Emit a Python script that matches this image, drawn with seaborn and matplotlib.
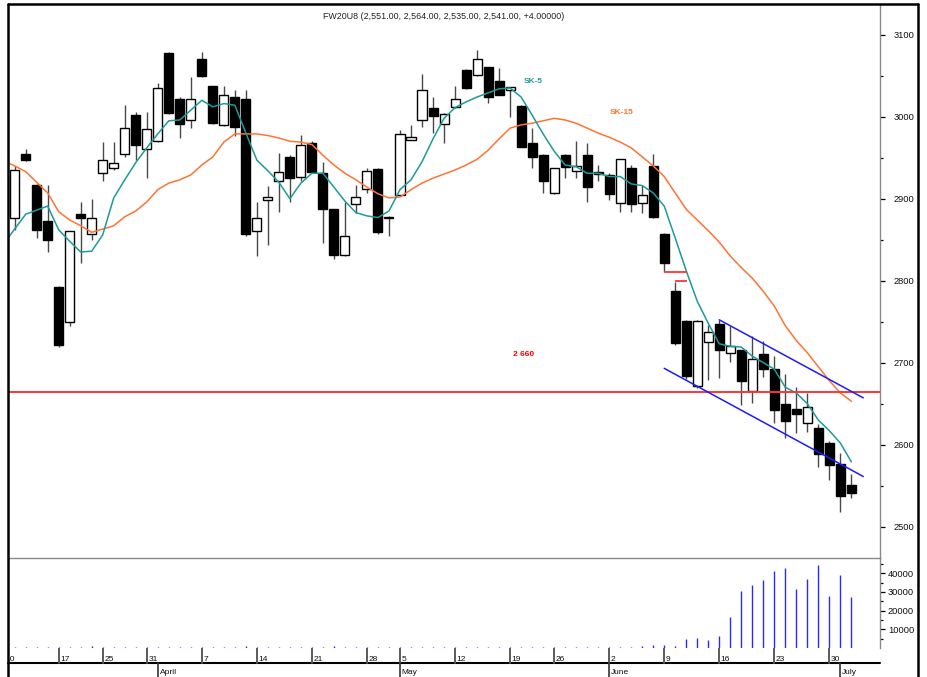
import numpy as np
import pandas as pd
import matplotlib
matplotlib.use("Agg")
import matplotlib.pyplot as plt
from matplotlib.lines import Line2D
from matplotlib.ticker import MultipleLocator, FixedLocator
import seaborn as sns

sns.set_theme(style="white")
plt.rcParams['font.family'] = ['Liberation Sans', 'DejaVu Sans']

# ---------------- data ----------------
title_text = "FW20U8 (2,551.00, 2,564.00, 2,535.00, 2,541.00, +4.00000)"

day_index = list(range(1, 78))
opens = [2876, 2955, 2917, 2873, 2792, 2750, 2881, 2857, 2931, 2938,
         2955, 3002, 2960, 2970, 3078, 3022, 2996, 3070, 3037, 2990,
         3024, 3022, 2860, 2898, 2921, 2951, 2927, 2968, 2931, 2887,
         2831, 2894, 2912, 2936, 2876, 2905, 2972, 2996, 3011, 2991,
         3012, 3057, 3051, 3060, 3043, 3032, 3013, 2968, 2953, 2907,
         2953, 2934, 2953, 2932, 2929, 2895, 2938, 2895, 2940, 2857,
         2787, 2751, 2671, 2725, 2747, 2712, 2715, 2665, 2711, 2692,
         2650, 2644, 2627, 2620, 2602, 2577, 2551]
highs = [2940, 2960, 2918, 2917, 2793, 2861, 2896, 2900, 2969, 2969,
         3014, 3006, 3006, 3041, 3079, 3024, 3049, 3079, 3038, 3037,
         3033, 3033, 2896, 2915, 2956, 2953, 2978, 2970, 2945, 2888,
         2896, 2917, 2938, 2937, 2879, 2984, 2990, 3052, 3024, 3005,
         3037, 3058, 3081, 3060, 3059, 3036, 3014, 2986, 2954, 2938,
         2954, 2970, 2968, 2941, 2931, 2949, 2941, 2917, 2955, 2858,
         2799, 2752, 2752, 2746, 2752, 2745, 2716, 2732, 2726, 2708,
         2686, 2670, 2663, 2625, 2605, 2590, 2564]
lows = [2862, 2946, 2852, 2835, 2719, 2745, 2822, 2850, 2921, 2935,
        2951, 2947, 2925, 2969, 3003, 2974, 2986, 3049, 2991, 2989,
        2977, 2855, 2830, 2844, 2884, 2896, 2921, 2931, 2846, 2827,
        2830, 2882, 2907, 2857, 2854, 2904, 2971, 2988, 2980, 2968,
        3011, 3034, 3050, 3017, 3026, 3000, 2963, 2937, 2907, 2906,
        2925, 2925, 2896, 2921, 2899, 2884, 2884, 2883, 2877, 2810,
        2721, 2680, 2669, 2679, 2681, 2701, 2648, 2651, 2683, 2626,
        2608, 2614, 2616, 2573, 2557, 2518, 2535]
closes = [2935, 2947, 2862, 2850, 2722, 2861, 2877, 2876, 2947, 2943,
          2986, 2966, 2985, 3035, 3005, 2991, 3022, 3050, 2992, 3026,
          2988, 2857, 2876, 2902, 2933, 2925, 2966, 2933, 2888, 2831,
          2854, 2902, 2934, 2859, 2878, 2979, 2975, 3033, 3001, 3003,
          3022, 3035, 3070, 3024, 3027, 3036, 2963, 2951, 2921, 2938,
          2939, 2940, 2914, 2930, 2906, 2948, 2894, 2905, 2878, 2822,
          2724, 2684, 2751, 2737, 2715, 2720, 2678, 2705, 2692, 2642,
          2629, 2638, 2646, 2589, 2575, 2537, 2541]
volumes = [500, 500, 500, 500, 600, 500, 500, 900, 500, 500,
           500, 500, 600, 600, 500, 500, 500, 600, 500, 500,
           500, 900, 500, 500, 500, 500, 500, 600, 500, 900,
           500, 500, 500, 500, 500, 600, 500, 500, 500, 500,
           600, 500, 500, 500, 500, 600, 500, 500, 500, 600,
           500, 500, 800, 500, 800, 500, 800, 900, 1800, 1800,
           1200, 4600, 5200, 4300, 6600, 16400, 30600, 33700, 36200, 41200,
           42600, 31600, 36700, 44400, 27800, 39000, 27300]

ma_index = list(range(0, 78))
sk5 = [2845, 2863, 2881, 2886, 2891, 2862, 2848, 2835, 2836, 2856,
       2901, 2923, 2944, 2962, 2979, 2995, 2996, 3008, 3020, 3012,
       3016, 3014, 2980, 2947, 2934, 2920, 2900, 2919, 2931, 2931,
       2914, 2897, 2883, 2879, 2877, 2885, 2911, 2923, 2945, 2973,
       2998, 3011, 3018, 3024, 3029, 3034, 3035, 3024, 3002, 2979,
       2958, 2941, 2939, 2931, 2931, 2927, 2927, 2918, 2916, 2907,
       2891, 2852, 2812, 2775, 2748, 2723, 2720, 2719, 2708, 2700,
       2692, 2670, 2663, 2650, 2630, 2617, 2602, 2579]
sk15 = [2946, 2940, 2933, 2920, 2907, 2884, 2874, 2867, 2859, 2863,
        2867, 2878, 2885, 2896, 2911, 2919, 2923, 2929, 2941, 2951,
        2969, 2979, 2979, 2979, 2977, 2974, 2970, 2969, 2966, 2953,
        2941, 2931, 2923, 2914, 2906, 2901, 2902, 2911, 2919, 2925,
        2930, 2935, 2941, 2948, 2959, 2973, 2986, 2990, 2992, 2995,
        2998, 2996, 2992, 2986, 2980, 2975, 2969, 2962, 2951, 2940,
        2927, 2907, 2887, 2874, 2861, 2847, 2830, 2816, 2803, 2787,
        2769, 2745, 2727, 2712, 2695, 2678, 2663, 2653]

week_ticks = [0, 5, 9, 13, 18, 23, 28, 33, 36, 41, 46, 50, 55, 60, 65, 70, 75]
week_labels = ["10", "17", "25", "31", "7", "14", "21", "28", "5", "12",
               "19", "26", "2", "9", "16", "23", "30"]
month_ticks = [14, 36, 55, 76]
month_labels = ["April", "May", "June", "July"]

price_ticks = [2500, 2600, 2700, 2800, 2900, 3000, 3100]
volume_ticks = [10000, 20000, 30000, 40000]

level_value = 2663.9
level_label = "2 660"
upper_x = [65.0, 78.08]
upper_y = [2752.3, 2657.1]
lower_x = [60.0, 78.08]
lower_y = [2693.1, 2561.2]
gap_start = [60, 61]
gap_end = [62.1, 62.1]
gap_value = [2810, 2800]

# ---------------- style ----------------
TEAL = "#1e9a9a"
ORANGE = "#ff7333"
RED = "#ff3434"
BLUE = "#1c1cff"
VOLC = "#2a2aff"

W, H = 928, 677
fig = plt.figure(figsize=(W / 100, H / 100), dpi=100)
fig.patch.set_facecolor("white")
XL = (0.395, 79.6)

ax = fig.add_axes([8 / W, (H - 558) / H, 872 / W, 553 / H])
axv = fig.add_axes([8 / W, (H - 648) / H, 872 / W, 90 / H])
axd = fig.add_axes([8 / W, 0, 872 / W, 29 / H])

# ---------------- candles ----------------
df = pd.DataFrame(dict(i=day_index, o=opens, h=highs, l=lows, c=closes))
ax.vlines(df["i"], df["l"], df["h"], color="#484848", lw=1.0, zorder=2)
up = df["c"] >= df["o"]
blo = np.minimum(df["o"], df["c"])
bh = np.maximum((df["c"] - df["o"]).abs(), 1.5)
ax.bar(df["i"][up], bh[up], bottom=blo[up], width=0.82, color="white",
       edgecolor="black", linewidth=1.0, zorder=3)
ax.bar(df["i"][~up], bh[~up], bottom=blo[~up], width=0.82, color="black",
       edgecolor="black", linewidth=1.0, zorder=3)

# ---------------- moving averages (seaborn) ----------------
ma = pd.DataFrame(dict(i=ma_index, sk5=sk5, sk15=sk15))
sns.lineplot(data=ma, x="i", y="sk15", ax=ax, color=ORANGE, lw=1.1, zorder=4)
sns.lineplot(data=ma, x="i", y="sk5", ax=ax, color=TEAL, lw=1.1, zorder=4)
ax.set_xlabel("")
ax.set_ylabel("")

# level, channel, gaps
ax.axhline(level_value, color=RED, lw=1.4, zorder=5)
ax.plot(upper_x, upper_y, color=BLUE, lw=1.1, zorder=5)
ax.plot(lower_x, lower_y, color=BLUE, lw=1.1, zorder=5)
ax.hlines(gap_value, gap_start, gap_end, color=RED, lw=1.3, zorder=5)

ax.text(47.26, 3042.3, "SK-5", color=TEAL, fontsize=6.0, fontweight="bold",
        ha="left", va="center")
ax.text(55.01, 3005.1, "SK-15", color=ORANGE, fontsize=6.0, fontweight="bold",
        ha="left", va="center")
ax.text(46.23, 2709.4, level_label, color="red", fontsize=6.0, fontweight="bold",
        ha="left", va="center")

# price axis
ax.set_xlim(XL)
ax.set_ylim(2461.8, 3136.2)
ax.set_xticks([])
ax.yaxis.tick_right()
ax.yaxis.set_major_locator(FixedLocator(price_ticks))
ax.yaxis.set_minor_locator(MultipleLocator(50))
ax.set_yticklabels([str(v) for v in price_ticks])
ax.tick_params(axis="y", which="major", direction="out", length=3.6, width=0.9,
               color="black", labelsize=6.7, labelcolor="#111", pad=20.9)
ax.tick_params(axis="y", which="minor", direction="out", length=2.2, width=0.9,
               color="black")
plt.setp(ax.get_yticklabels(), ha="right")
for s in ("left", "top", "bottom"):
    ax.spines[s].set_visible(False)
ax.spines["right"].set_color("#8a8a8a")
ax.spines["right"].set_linewidth(1.0)

# ---------------- volume ----------------
axv.vlines(day_index, 0, volumes, color=VOLC, lw=1.0)
axv.set_xlim(XL)
axv.set_ylim(0, 48205)
axv.set_xticks([])
axv.yaxis.tick_right()
axv.yaxis.set_major_locator(FixedLocator(volume_ticks))
axv.yaxis.set_minor_locator(FixedLocator([5000, 15000, 25000, 35000, 45000]))
axv.set_yticklabels([str(v) for v in volume_ticks])
axv.tick_params(axis="y", which="major", direction="out", length=3.6, width=0.9,
                color="black", labelsize=6.7, labelcolor="#111", pad=20.9)
axv.tick_params(axis="y", which="minor", direction="out", length=2.2, width=0.9,
                color="black")
plt.setp(axv.get_yticklabels(), ha="right")
for s in ("left", "bottom"):
    axv.spines[s].set_visible(False)
for s in ("top", "right"):
    axv.spines[s].set_color("#8a8a8a")
    axv.spines[s].set_linewidth(1.0)
axv.patch.set_alpha(0)

# ---------------- date axis ----------------
axd.set_xlim(XL)
axd.set_ylim(29, 0)
axd.axis("off")
axd.plot(XL, [15, 15], color="black", lw=1.5, clip_on=False)
for t, lab in zip(week_ticks, week_labels):
    axd.plot([t, t], [0, 15], color="#5a5a5a", lw=1.4)
    axd.text(t + 0.14, 13.3, lab, fontsize=6.0, color="#111",
             ha="left", va="baseline", clip_on=True)
for t, lab in zip(month_ticks, month_labels):
    axd.plot([t, t], [15, 29], color="#333333", lw=1.2)
    axd.text(t + 0.16, 25.5, lab, fontsize=6.0, color="#111",
             ha="left", va="baseline", clip_on=True)

# ---------------- frame & title ----------------
fig.add_artist(Line2D([8 / W, 8 / W], [0, 1 - 4 / H], color="black", lw=1.8,
                      transform=fig.transFigure))
fig.add_artist(Line2D([8 / W, 918 / W], [1 - 4 / H, 1 - 4 / H], color="black",
                      lw=1.8, transform=fig.transFigure))
fig.add_artist(Line2D([918 / W, 918 / W], [0, 1 - 4 / H], color="black", lw=1.8,
                      transform=fig.transFigure))
fig.text(444 / W, 1 - 16.7 / H, title_text, ha="center", va="center",
         fontsize=6.4, color="#222")

fig.savefig("out.png", dpi=100, facecolor="white")
